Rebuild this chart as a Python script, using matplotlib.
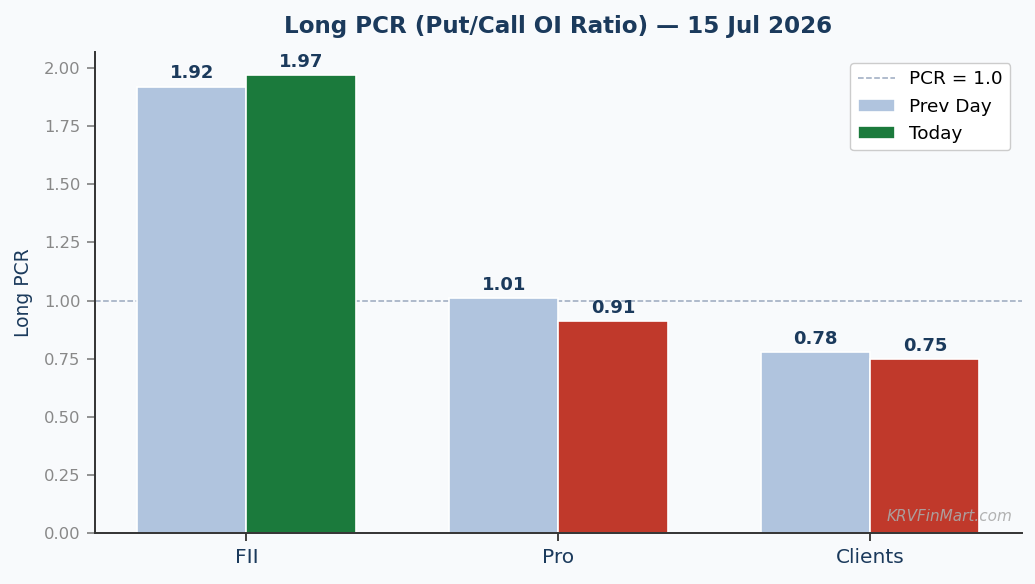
import numpy as np
import matplotlib.pyplot as plt

categories = ['FII', 'Pro', 'Clients']
prev_day = [1.92, 1.01, 0.78]
today = [1.97, 0.91, 0.75]

navy = '#1b3a5c'
bg = '#f8fafc'

fig, ax = plt.subplots(figsize=(10.35, 5.84), dpi=100)
fig.patch.set_facecolor(bg)
ax.set_facecolor(bg)

x = np.arange(len(categories))
w = 0.35
today_colors = ['#1b7a3c' if t >= p else '#c0392b' for t, p in zip(today, prev_day)]

ax.axhline(1.0, color='#8a9bb4', linestyle='--', linewidth=1.1, alpha=0.85, label='PCR = 1.0', zorder=1)
b1 = ax.bar(x - w/2, prev_day, w, color='#b0c4de', edgecolor='white', linewidth=1.2, label='Prev Day', zorder=2)
b2 = ax.bar(x + w/2, today, w, color=today_colors, edgecolor='white', linewidth=1.2, label='Today', zorder=2)

for bars in (b1, b2):
    for r in bars:
        ax.text(r.get_x() + r.get_width()/2, r.get_height() + 0.018, f'{r.get_height():.2f}',
                ha='center', va='bottom', fontsize=13, fontweight='bold', color=navy)

ax.set_ylim(0, max(today + prev_day) * 1.05)
ax.set_xticks(x)
ax.set_xticklabels(categories, fontsize=14.5, color=navy)
ax.tick_params(axis='y', colors='#888888', labelsize=11.8, length=5.5, width=1.3, pad=5)
ax.tick_params(axis='x', colors='#333333', length=5.5, width=1.3, pad=5)
for lab in ax.get_xticklabels():
    lab.set_color(navy)
ax.set_ylabel('Long PCR', fontsize=13.5, color=navy, labelpad=8)
ax.set_title('Long PCR (Put/Call OI Ratio) — 15 Jul 2026', fontsize=16.6, fontweight='bold', color=navy, pad=14)

ax.spines['top'].set_visible(False)
ax.spines['right'].set_visible(False)
ax.spines['left'].set_color('#333333')
ax.spines['bottom'].set_color('#333333')
ax.spines['left'].set_linewidth(1.4)
ax.spines['bottom'].set_linewidth(1.4)

leg = ax.legend(loc='upper right', fontsize=13.3, framealpha=1, facecolor='white', edgecolor='#cccccc',
                borderaxespad=0.6)

ax.text(0.99, 0.02, 'KRVFinMart.com', transform=ax.transAxes, ha='right', va='bottom',
        fontsize=11, style='italic', color='#aaaaaa', alpha=0.9)

fig.subplots_adjust(left=0.092, right=0.987, top=0.911, bottom=0.087)
fig.savefig('out.png', dpi=100, facecolor=bg)
